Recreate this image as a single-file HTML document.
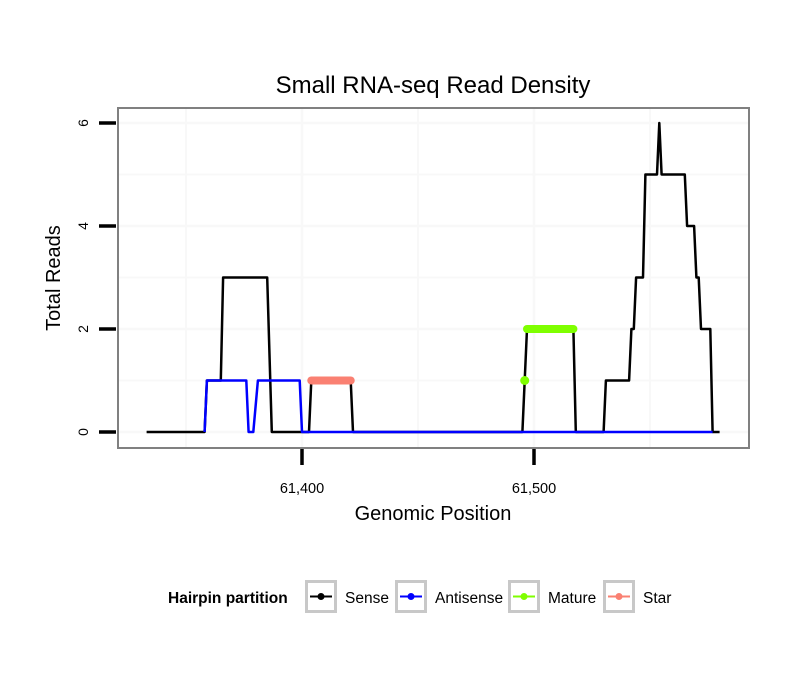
<!DOCTYPE html>
<html><head><meta charset="utf-8"><style>
body{margin:0;background:#fff;font-family:"Liberation Sans",sans-serif}
svg text{font-family:"Liberation Sans",sans-serif}
</style></head><body>
<svg id="chart" width="810" height="690" viewBox="0 0 810 690" xmlns="http://www.w3.org/2000/svg">
<rect width="810" height="690" fill="#fff"/>
<text x="433" y="93" font-size="24" text-anchor="middle">Small RNA-seq Read Density</text>
<g id="grid"></g>
<g id="series"></g>
<rect x="118" y="108" width="631" height="340" fill="none" stroke="#808080" stroke-width="2"/>
<g id="axes"></g>
<text x="433" y="520" font-size="20" text-anchor="middle">Genomic Position</text>
<text transform="translate(60,278) rotate(-90)" font-size="20" text-anchor="middle">Total Reads</text>
<g>
<text x="168" y="603" font-size="15.5" font-weight="bold">Hairpin partition</text>
<g id="legend-items"></g>
</g>
</svg>
<script>
const senseX=[61333,61358,61359,61365,61366,61385,61387,61403,61404,61421,61422,61495,61496,61497,61517,61518,61530,61531,61541,61542,61543,61544,61547,61548,61553,61554,61555,61565,61566,61569,61570,61571,61572,61576,61577,61580];
const senseY=[0,0,1,1,3,3,0,0,1,1,0,0,1,2,2,0,0,1,1,2,2,3,3,5,5,6,5,5,4,4,3,3,2,2,0,0];
const antiX=[61358,61359,61376,61377,61379,61381,61399,61400,61577];
const antiY=[0,1,1,0,0,1,1,0,0];
const matureX=[61497,61517];
const matureY=[2,2];
const maturePointX=[61496];
const maturePointY=[1];
const starX=[61404,61421];
const starY=[1,1];
const xTicks=[61400,61500];
const xTickLabels=["61,400","61,500"];
const yTicks=[0,2,4,6];
const legendNames=["Sense","Antisense","Mature","Star"];
const legendColors=["#000000","#0000ff","#7fff00","#fa8072"];

const NS="http://www.w3.org/2000/svg";
function xs(v){return 302+(v-61400)*2.32;}
function ys(v){return 432-v*51.5;}
function mk(tag,attrs,parent){const e=document.createElementNS(NS,tag);for(const k in attrs)e.setAttribute(k,attrs[k]);parent.appendChild(e);return e;}
const grid=document.getElementById('grid'),series=document.getElementById('series'),axes=document.getElementById('axes');
for(const v of [61350,61400,61450,61500,61550]){
  const g=mk('line',{x1:xs(v),x2:xs(v),y1:109,y2:447,stroke:'#f8f8f8','stroke-width':(v%100===0)?2.5:2},grid);
  
  
}
for(const v of [0,1,2,3,4,5,6]){
  const g=mk('line',{x1:119,x2:748,y1:ys(v),y2:ys(v),stroke:'#f8f8f8','stroke-width':(v%2===0)?2.5:2},grid);
  
  
}
function path(X,Y){return X.map((x,i)=>(i?'L':'M')+xs(x).toFixed(1)+','+ys(Y[i]).toFixed(1)).join(' ');}
const ps=mk('path',{d:path(senseX,senseY),fill:'none',stroke:'#000','stroke-width':2.5,'stroke-linejoin':'round'},series);


const pa=mk('path',{d:path(antiX,antiY),fill:'none',stroke:'#0000ff','stroke-width':2.5,'stroke-linejoin':'round'},series);


const pm=mk('path',{d:path(matureX,matureY),fill:'none',stroke:'#7fff00','stroke-width':8,'stroke-linecap':'round'},series);


maturePointX.forEach((x,i)=>{
  const c=mk('circle',{cx:xs(x),cy:ys(maturePointY[i]),r:4.5,fill:'#7fff00'},series);
  
  
});
const pst=mk('path',{d:path(starX,starY),fill:'none',stroke:'#fa8072','stroke-width':8,'stroke-linecap':'round'},series);


yTicks.forEach(v=>{
  const t=mk('line',{x1:99,x2:116,y1:ys(v),y2:ys(v),stroke:'#000','stroke-width':3.5},axes);
  
  
  const l=mk('text',{transform:`translate(88,${ys(v)}) rotate(-90)`,'font-size':14,'text-anchor':'middle'},axes);
  l.textContent=v;
  
  
});
xTicks.forEach((v,i)=>{
  const t=mk('line',{x1:xs(v),x2:xs(v),y1:449,y2:465,stroke:'#000','stroke-width':3.5},axes);
  
  
  const l=mk('text',{x:xs(v),y:493,'font-size':14.5,'text-anchor':'middle'},axes);
  l.textContent=xTickLabels[i];
  
  
});
const li=document.getElementById('legend-items');
const boxX=[305,395,508,603];
legendNames.forEach((n,i)=>{
  const b=mk('rect',{x:boxX[i]+1.5,y:581.5,width:29,height:30,fill:'#fff',stroke:'#c8c8c8','stroke-width':3},li);
  
  
  mk('line',{x1:boxX[i]+5,x2:boxX[i]+27,y1:596.5,y2:596.5,stroke:legendColors[i],'stroke-width':2},li);
  mk('circle',{cx:boxX[i]+16,cy:596.5,r:3.5,fill:legendColors[i]},li);
  const t=mk('text',{x:boxX[i]+40,y:603,'font-size':15.5},li);
  t.textContent=n;
  
  
});
</script>
</body></html>
